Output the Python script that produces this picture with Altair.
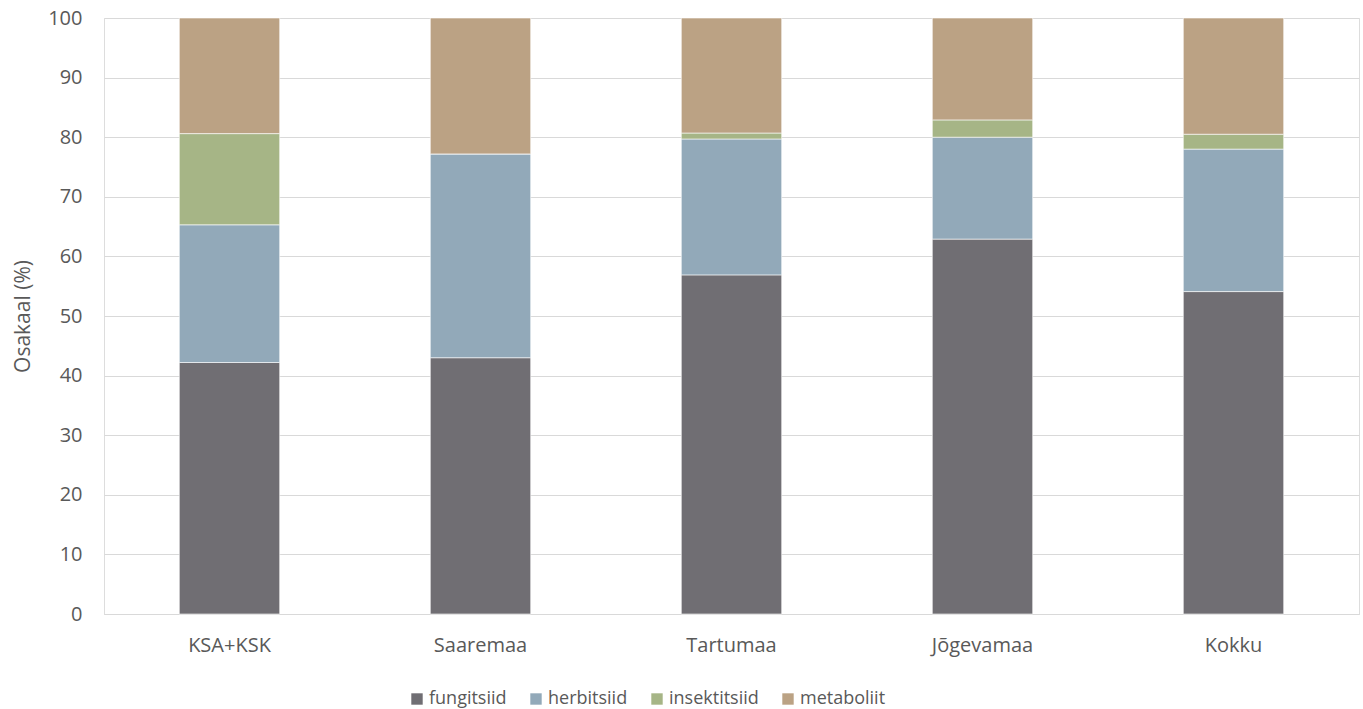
import altair as alt
import pandas as pd

regions = ["KSA+KSK", "Saaremaa", "Tartumaa", "Jõgevamaa", "Kokku"]
groups = ["fungitsiid", "herbitsiid", "insektitsiid", "metaboliit"]
fungitsiid = [42.2, 43.0, 56.9, 62.9, 54.1]
herbitsiid = [23.1, 34.2, 22.8, 17.1, 23.9]
insektitsiid = [15.3, 0.0, 1.0, 2.9, 2.5]
metaboliit = [19.4, 22.8, 19.3, 17.1, 19.5]
colors = ["#706E73", "#92A9B9", "#A6B586", "#BBA284"]

series = [fungitsiid, herbitsiid, insektitsiid, metaboliit]
rows = []
for gi, (g, vals) in enumerate(zip(groups, series)):
    for r, v in zip(regions, vals):
        rows.append({"region": r, "group": g, "value": v, "order": gi})
df = pd.DataFrame(rows)

FONT = "Open Sans"
TXT = "#595959"

chart = alt.Chart(df).mark_bar(stroke="white", strokeWidth=0.6).encode(
    x=alt.X("region:N", sort=regions, title=None,
            scale=alt.Scale(paddingInner=0.6, paddingOuter=0.3),
            axis=alt.Axis(labelAngle=0, ticks=False, domain=True, domainColor="#D9D9D9",
                          domainWidth=1, labelPadding=21, labelFontSize=20,
                          labelColor=TXT, labelFont=FONT)),
    y=alt.Y("value:Q", stack="zero", title="Osakaal (%)",
            scale=alt.Scale(domain=[0, 100], nice=False),
            axis=alt.Axis(values=list(range(0, 101, 10)), domain=False, ticks=False,
                          gridColor="#D9D9D9", gridWidth=1, labelPadding=22,
                          labelFontSize=20, labelColor=TXT, labelFont=FONT,
                          titleFontSize=21, titleColor=TXT, titleFont=FONT,
                          titleFontWeight="normal", titlePadding=14)),
    color=alt.Color("group:N", sort=groups,
                    scale=alt.Scale(domain=groups, range=colors),
                    legend=alt.Legend(title=None, orient="none", direction="horizontal",
                                      legendX=304, legendY=672, symbolType="square",
                                      symbolSize=130, symbolStrokeWidth=0,
                                      labelFontSize=18, labelColor=TXT, labelFont=FONT,
                                      columnPadding=20, labelOffset=3)),
    order=alt.Order("order:Q", sort="ascending"),
).properties(
    width=1255, height=596,
    autosize=alt.AutoSizeParams(type="none"),
    padding={"left": 104, "top": 18, "right": 4, "bottom": 95},
).configure_view(stroke=None).configure(background="white")

chart.save("out.html", embed_options={"renderer": "svg", "actions": False})
